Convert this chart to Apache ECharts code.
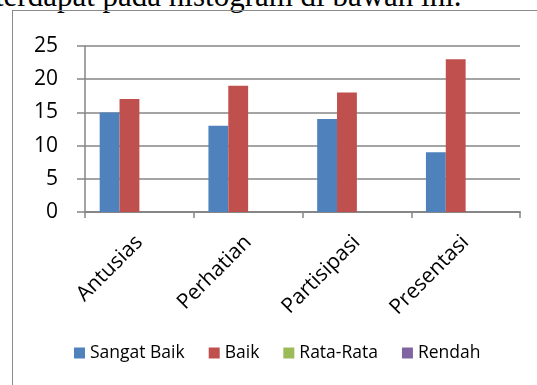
<!DOCTYPE html>
<html>
<head>
<meta charset="utf-8">
<script src="https://cdn.jsdelivr.net/npm/echarts@6/dist/echarts.min.js"></script>
<style>
  html, body { margin: 0; padding: 0; background: #fff; overflow: hidden; }
  #wrap { position: relative; width: 537px; height: 385px; overflow: hidden; }
  #caption { position: absolute; left: -5px; top: -16px; font: 31px "Liberation Serif", serif; line-height: 24px; white-space: nowrap; color: #000; }
  #frame { position: absolute; left: 12px; top: 10px; width: 600px; height: 500px; border-left: 1.5px solid #8a8a8a; border-top: 1.5px solid #8a8a8a; }
  #chart { position: absolute; left: 0; top: 0; width: 537px; height: 385px; }
</style>
</head>
<body>
<div id="wrap">
  <div id="caption">terdapat pada histogram di bawah ini.</div>
  <div id="frame"></div>
  <div id="chart"></div>
</div>
<script>
// kategori penilaian
var categories = ['Antusias', 'Perhatian', 'Partisipasi', 'Presentasi'];
var seriesNames = ['Sangat Baik', 'Baik', 'Rata-Rata', 'Rendah'];
var sangatBaik = [15, 13, 14, 9];
var baik = [17, 19, 18, 23];
var rataRata = [0, 0, 0, 0];
var rendah = [0, 0, 0, 0];
var yTicks = [0, 5, 10, 15, 20, 25];

var colors = ['#4F81BD', '#C0504D', '#9BBB59', '#8064A2'];
var values = [sangatBaik, baik, rataRata, rendah];
var font = 'Open Sans';

var myChart = echarts.init(document.getElementById('chart'));

var series = [];
for (var i = 0; i < seriesNames.length; i++) {
  series.push({
    name: seriesNames[i],
    type: 'bar',
    data: values[i],
    barGap: '0%',
    barCategoryGap: '27%',
    itemStyle: { color: colors[i] }
  });
}

var option = {
  animation: false,
  color: colors,
  grid: { left: 85, right: 17, top: 46, bottom: 173, containLabel: false },
  legend: {
    data: seriesNames,
    top: 344,
    left: 74,
    padding: 0,
    itemWidth: 11,
    itemHeight: 11,
    itemGap: 24,
    icon: 'rect',
    textStyle: { fontFamily: font, fontSize: 17.5, color: '#000' }
  },
  xAxis: {
    type: 'category',
    data: categories,
    axisLine: { lineStyle: { color: '#868686', width: 2 } },
    axisTick: { show: true, length: 6, lineStyle: { color: '#868686', width: 1.5 } },
    axisLabel: { rotate: 45, margin: 27, fontFamily: font, fontSize: 21, color: '#000' }
  },
  yAxis: {
    type: 'value',
    min: yTicks[0],
    max: yTicks[yTicks.length - 1],
    interval: yTicks[1] - yTicks[0],
    axisLine: { show: true, lineStyle: { color: '#868686', width: 1.5 } },
    axisTick: { show: true, length: 8, lineStyle: { color: '#868686', width: 1.5 } },
    axisLabel: { margin: 27, fontFamily: font, fontSize: 21, color: '#000' },
    splitLine: { lineStyle: { color: '#868686', width: 1.5 } }
  },
  series: series
};

myChart.setOption(option);
</script>
</body>
</html>
